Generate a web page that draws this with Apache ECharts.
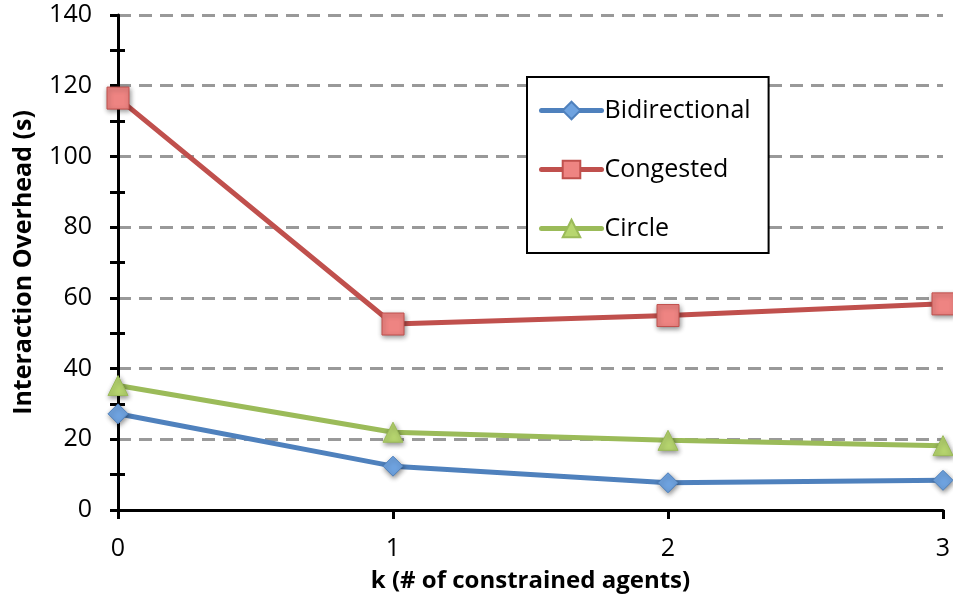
<!DOCTYPE html>
<html>
<head>
<meta charset="utf-8">
<script src="https://cdn.jsdelivr.net/npm/echarts@6/dist/echarts.min.js"></script>
<style>
  html, body { margin: 0; padding: 0; background: #fff; }
  #chart { width: 953px; height: 600px; }
</style>
</head>
<body>
<div id="chart"></div>
<script>
// k values (number of constrained agents)
const kValues = [0, 1, 2, 3];
// Interaction overhead in seconds per scenario
const bidirectional = [27.2, 12.4, 7.7, 8.4];
const congested = [116.5, 52.6, 55.0, 58.3];
const circle = [35.2, 22.0, 19.7, 18.2];

const FONT = '"Open Sans", "Liberation Sans", sans-serif';
const LABEL_SIZE = 25;

function pairs(values) {
  return kValues.map((k, i) => [k, values[i]]);
}

const markerShadow = {
  shadowBlur: 5,
  shadowColor: 'rgba(0,0,0,0.45)',
  shadowOffsetX: 1,
  shadowOffsetY: 2
};

function series(name, values, lineColor, fill, symbol, size) {
  return {
    name: name,
    type: 'line',
    data: pairs(values),
    symbol: symbol,
    symbolSize: size,
    lineStyle: { color: lineColor, width: 5 },
    itemStyle: Object.assign({ color: fill, borderColor: lineColor, borderWidth: 1 }, markerShadow),
    emphasis: { disabled: true },
    z: 3
  };
}

const tickStyle = { color: '#000', width: 3 };

const chart = echarts.init(document.getElementById('chart'), null, { renderer: 'canvas' });
chart.setOption({
  animation: false,
  backgroundColor: '#fff',
  grid: { left: 118, right: 10, top: 15, bottom: 90, containLabel: false, outerBoundsMode: 'none' },
  legend: {
    orient: 'vertical',
    left: 527,
    top: 77,
    padding: [21, 18, 12, 12],
    itemGap: 34,
    itemWidth: 60,
    itemHeight: 22,
    borderColor: '#000',
    borderWidth: 2,
    backgroundColor: '#fff',
    lineStyle: { width: 5, cap: 'round' },
    textStyle: { fontFamily: FONT, fontSize: 25, lineHeight: 22, color: '#000', padding: [0, 0, 0, -2] },
    data: ['Bidirectional', 'Congested', 'Circle']
  },
  xAxis: {
    type: 'value',
    min: 0,
    max: 3,
    interval: 1,
    name: 'k (# of constrained agents)',
    nameLocation: 'middle',
    nameGap: 59,
    nameTextStyle: { fontFamily: FONT, fontSize: 24, fontWeight: 'bold', color: '#000' },
    axisLine: { lineStyle: { color: '#000', width: 3 } },
    axisTick: { show: true, length: 9, lineStyle: tickStyle },
    axisLabel: { fontFamily: FONT, fontSize: LABEL_SIZE, color: '#000', margin: 26 },
    splitLine: { show: false }
  },
  yAxis: [
    {
      type: 'value',
      min: 0,
      max: 140,
      interval: 20,
      name: 'Interaction Overhead (s)',
      nameLocation: 'middle',
      nameGap: 82,
      nameTextStyle: { fontFamily: FONT, fontSize: 25, fontWeight: 'bold', color: '#000' },
      axisLine: { show: true, lineStyle: { color: '#000', width: 3 } },
      axisTick: { show: true, length: 8, lineStyle: tickStyle },
      minorTick: { show: true, splitNumber: 2, length: 8, lineStyle: tickStyle },
      axisLabel: { fontFamily: FONT, fontSize: LABEL_SIZE, color: '#000', margin: 26 },
      splitLine: { show: true, lineStyle: { color: '#999', width: 3, type: [13, 8] } }
    },
    {
      // inner half of the minor ticks, so they cross the axis line
      type: 'value',
      min: 0,
      max: 140,
      interval: 20,
      position: 'left',
      axisLine: { show: false },
      axisTick: { show: false },
      minorTick: { show: true, splitNumber: 2, length: -7, lineStyle: tickStyle },
      axisLabel: { show: false },
      splitLine: { show: false }
    }
  ],
  series: [
    series('Bidirectional', bidirectional, '#4F81BD', '#6FA3E0', 'diamond', 20),
    series('Congested', congested, '#C0504D', '#EE8482', 'rect', 22),
    series('Circle', circle, '#9BBB59', '#B7D66F', 'triangle', 20)
  ]
});
</script>
</body>
</html>
